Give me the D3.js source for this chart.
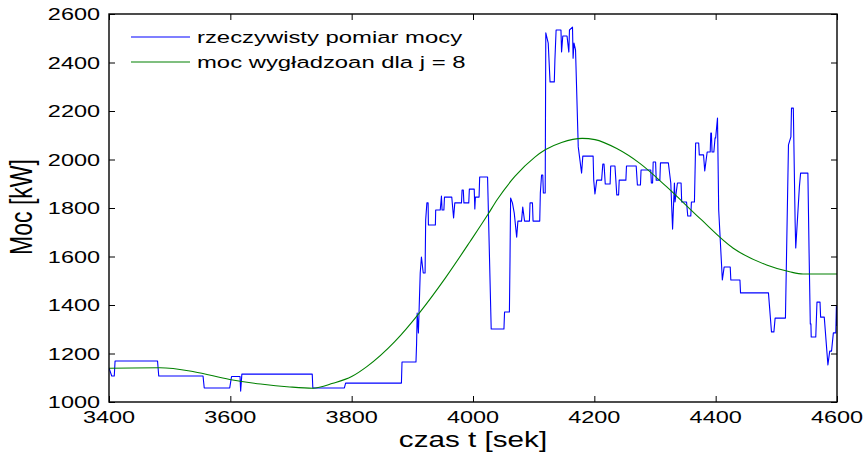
<!DOCTYPE html>
<html>
<head>
<meta charset="utf-8">
<script src="https://cdn.jsdelivr.net/npm/d3@7"></script>
<style>
  html, body { margin: 0; padding: 0; background: #fff; }
  svg { display: block; font-family: "Liberation Sans", Arial, sans-serif; }
</style>
</head>
<body>
<svg id="chart" width="865" height="455"></svg>
<script>
// Measured power: time [s] and power [kW]
const measuredT = [3400,3404.5,3408.7,3410,3480,3482,3555,3557,3599,3602,3616,3617,3619,3735,3736,3788,3790,3882,3883,3906,3907,3908,3910,3911,3913,3915,3918,3921,3922,3924,3926,3926.5,3938,3938.5,3946,3948,3949,3952,3953,3965,3968,3970,3981,3982,3984,3985,3993,3994,4002,4003,4004,4010,4011,4024,4030,4051,4052,4060,4061,4062,4065,4068,4072,4074,4080,4082,4085,4093,4094,4098,4099,4110,4111,4113,4115,4116,4119,4120,4124,4127,4134,4135,4137,4145,4146,4148,4155,4158,4159,4164,4165,4166.5,4169,4173.5,4179,4181,4198,4199,4201,4204,4212,4214,4216,4218,4226,4227,4234,4237,4240,4241,4252,4253,4269,4271,4276,4277,4293,4294,4296,4297,4301,4302,4308,4309,4322,4326,4329,4332,4333,4337,4343,4344,4352,4354,4359,4360,4365,4367,4372,4373,4380,4382,4386,4391,4392,4393,4394,4397,4399,4400,4403,4405,4411,4414,4424,4425,4440,4441,4487,4492,4496,4498,4515,4520,4524,4525,4528,4531,4532,4538,4540,4552,4554,4556,4557,4557.5,4565,4567,4572,4573,4579,4585,4588,4591,4594,4598,4599,4600];
const measuredP = [1140,1107,1107,1169,1169,1107,1107,1058,1058,1105,1105,1045,1115,1115,1058,1058,1078,1078,1165,1165,1239,1367,1285,1367,1532,1598,1532,1532,1751,1821,1821,1730,1730,1792,1792,1849,1792,1792,1845,1845,1759,1821,1821,1874,1874,1821,1821,1878,1878,1796,1845,1845,1928,1928,1301,1301,1371,1371,1586,1841,1821,1779,1680,1746,1746,1804,1746,1746,1821,1821,1746,1746,1862,1936,1936,1862,1862,2522,2480,2320,2320,2410,2534,2534,2443,2509,2509,2443,2534,2546,2418,2480,2452,2052,1944,2014,2014,1915,1858,1915,1915,1981,1981,1899,1899,1973,1973,1854,1854,1915,1915,1973,1973,1895,1895,1957,1957,1903,1903,1990,1990,1915,1915,1986,1986,1903,1713,1903,1825,1903,1903,1825,1825,1767,1767,1825,1825,2068,2068,2019,2019,1953,2031,2031,2109,2109,2031,2031,2089,2089,2171,1792,1503,1557,1557,1503,1503,1450,1450,1289,1289,1346,1346,2060,2093,2212,2212,1738,1635,1887,1944,1944,1614,1322,1322,1268,1268,1412,1412,1350,1350,1153,1210,1210,1285,1285,1396,1313];

// Smoothed power (j = 8)
const smoothT = [3400,3484,3540,3599,3650,3698,3736,3769,3800,3825,3871,3913,3954,3995,4025,4040,4069,4102,4119,4146,4180,4201,4237,4275,4319,4374,4429,4484,4522,4544,4600];
const smoothP = [1139,1141,1125,1093,1074,1062,1057,1077,1105,1146,1249,1372,1510,1661,1775,1835,1930,2010,2040,2070,2087,2082,2045,1984,1888,1757,1634,1565,1537,1528,1528];

const xTicks = [3400,3600,3800,4000,4200,4400,4600];
const yTicks = [1000,1200,1400,1600,1800,2000,2200,2400,2600];

const legendLabels = ["rzeczywisty pomiar mocy", "moc wygładzoan dla j = 8"];
const xTitle = "czas t [sek]";
const yTitle = "Moc [kW]";

const W = 865, H = 455;
const plot = { left: 109, right: 837, top: 14, bottom: 402 };
const STRETCH = 1.38;      // wide glyph aspect used by all labels
const FONT = 17;

const svg = d3.select("#chart");
const x = d3.scaleLinear().domain([3400, 4600]).range([plot.left, plot.right]);
const y = d3.scaleLinear().domain([1000, 2600]).range([plot.bottom, plot.top]);

svg.append("rect").attr("width", W).attr("height", H).attr("fill", "#fff");

// data lines
const measured = measuredT.map((t, i) => [t, measuredP[i]]);
const smooth = smoothT.map((t, i) => [t, smoothP[i]]);

svg.append("defs").append("clipPath").attr("id", "clip")
  .append("rect").attr("x", plot.left).attr("y", plot.top)
  .attr("width", plot.right - plot.left).attr("height", plot.bottom - plot.top);

const g = svg.append("g").attr("clip-path", "url(#clip)");
g.append("path").datum(measured)
  .attr("fill", "none").attr("stroke", "#0000ff").attr("stroke-width", 1.1)
  .attr("stroke-linejoin", "round")
  .attr("d", d3.line().x(d => x(d[0])).y(d => y(d[1])));
g.append("path").datum(smooth)
  .attr("fill", "none").attr("stroke", "#008000").attr("stroke-width", 1.1)
  .attr("d", d3.line().x(d => x(d[0])).y(d => y(d[1])).curve(d3.curveMonotoneX));

// axes: ticks point inward on all four sides
const tick = 6;
svg.append("g").attr("transform", `translate(0,${plot.bottom})`)
  .call(d3.axisBottom(x).tickValues(xTicks).tickSize(-tick).tickFormat(""))
  .call(a => a.select(".domain").remove());
svg.append("g").attr("transform", `translate(0,${plot.top})`)
  .call(d3.axisTop(x).tickValues(xTicks).tickSize(-tick).tickFormat(""))
  .call(a => a.select(".domain").remove());
svg.append("g").attr("transform", `translate(${plot.left},0)`)
  .call(d3.axisLeft(y).tickValues(yTicks).tickSize(-tick).tickFormat(""))
  .call(a => a.select(".domain").remove());
svg.append("g").attr("transform", `translate(${plot.right},0)`)
  .call(d3.axisRight(y).tickValues(yTicks).tickSize(-tick).tickFormat(""))
  .call(a => a.select(".domain").remove());
svg.selectAll(".tick line").attr("stroke", "#000").attr("stroke-width", 1);

svg.append("rect")
  .attr("x", plot.left).attr("y", plot.top)
  .attr("width", plot.right - plot.left).attr("height", plot.bottom - plot.top)
  .attr("fill", "none").attr("stroke", "#000").attr("stroke-width", 1.4);

// tick labels
svg.append("g").selectAll("g").data(xTicks).join("g")
  .attr("transform", d => `translate(${x(d)},423) scale(${STRETCH},1)`)
  .append("text").attr("text-anchor", "middle").attr("font-size", FONT)
  .attr("fill", "#000").text(d => d);
svg.append("g").selectAll("g").data(yTicks).join("g")
  .attr("transform", d => `translate(100,${y(d) + 6}) scale(${STRETCH},1)`)
  .append("text").attr("text-anchor", "end").attr("font-size", FONT)
  .attr("fill", "#000").text(d => d);

// axis titles
svg.append("g").attr("transform", `translate(473,447) scale(${STRETCH},1)`)
  .append("text").attr("text-anchor", "middle").attr("font-size", 21.5)
  .attr("fill", "#000").text(xTitle);
svg.append("g").attr("transform", `translate(32,207) scale(${STRETCH},1) rotate(-90)`)
  .append("text").attr("text-anchor", "middle").attr("font-size", 23)
  .attr("fill", "#000").text(yTitle);

// legend
const legendColors = ["#0000ff", "#008000"];
const lg = svg.append("g");
legendLabels.forEach((label, i) => {
  const ly = 37 + i * 25;
  lg.append("line").attr("x1", 131).attr("x2", 190).attr("y1", ly).attr("y2", ly)
    .attr("stroke", legendColors[i]).attr("stroke-width", 1.1);
  lg.append("g").attr("transform", `translate(197,${ly + 6}) scale(${STRETCH},1)`)
    .append("text").attr("font-size", 17.3).attr("fill", "#000").text(label);
});
</script>
</body>
</html>
